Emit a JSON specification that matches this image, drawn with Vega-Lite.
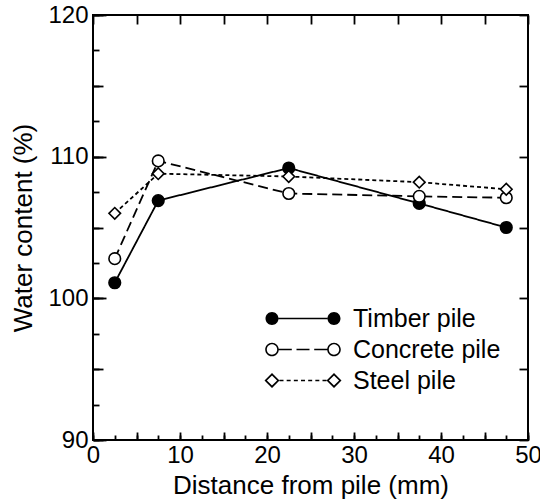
{
  "$schema": "https://vega.github.io/schema/vega-lite/v6.json",
  "width": 435,
  "height": 425,
  "autosize": {"type": "none"},
  "padding": {"left": 93, "top": 15, "right": 12, "bottom": 63},
  "background": "white",
  "config": {
    "view": {"stroke": "black", "strokeWidth": 2},
    "font": "Liberation Sans",
    "axis": {
      "grid": false,
      "domain": false,
      "labelColor": "black",
      "labelFont": "Liberation Sans",
      "labelFontSize": 24,
      "titleFont": "Liberation Sans",
      "titleFontSize": 26,
      "titleFontWeight": "normal",
      "titleColor": "black"
    }
  },
  "data": {
    "values": [
      {"d": 2.5, "w": 101.1, "pile": "Timber pile"},
      {"d": 7.5, "w": 106.9, "pile": "Timber pile"},
      {"d": 22.5, "w": 109.2, "pile": "Timber pile"},
      {"d": 37.5, "w": 106.7, "pile": "Timber pile"},
      {"d": 47.5, "w": 105.0, "pile": "Timber pile"},
      {"d": 2.5, "w": 102.8, "pile": "Concrete pile"},
      {"d": 7.5, "w": 109.7, "pile": "Concrete pile"},
      {"d": 22.5, "w": 107.4, "pile": "Concrete pile"},
      {"d": 37.5, "w": 107.2, "pile": "Concrete pile"},
      {"d": 47.5, "w": 107.1, "pile": "Concrete pile"},
      {"d": 2.5, "w": 106.0, "pile": "Steel pile"},
      {"d": 7.5, "w": 108.8, "pile": "Steel pile"},
      {"d": 22.5, "w": 108.6, "pile": "Steel pile"},
      {"d": 37.5, "w": 108.2, "pile": "Steel pile"},
      {"d": 47.5, "w": 107.7, "pile": "Steel pile"}
    ]
  },
  "layer": [
    {
      "mark": {"type": "line", "color": "black", "strokeWidth": 1.8},
      "encoding": {
        "x": {
          "field": "d", "type": "quantitative",
          "scale": {"domain": [0, 50], "nice": false, "zero": false},
          "axis": {
            "orient": "bottom",
            "title": "Distance from pile (mm)",
            "values": [0, 10, 20, 30, 40, 50],
            "ticks": false,
            "labelPadding": 3,
            "labelFlush": false,
            "labelOverlap": false,
            "titleY": 53,
            "titleBaseline": "alphabetic"
          }
        },
        "y": {
          "field": "w", "type": "quantitative",
          "scale": {"domain": [90, 120], "nice": false, "zero": false},
          "axis": {
            "orient": "left",
            "title": "Water content (%)",
            "values": [90, 100, 110, 120],
            "ticks": false,
            "labelPadding": 5,
            "labelFlush": false,
            "labelOverlap": false,
            "titleX": -70,
            "titleBaseline": "middle"
          }
        },
        "detail": {"field": "pile"},
        "strokeDash": {
          "field": "pile", "type": "nominal",
          "scale": {"domain": ["Timber pile", "Concrete pile", "Steel pile"], "range": [[1, 0], [10, 5], [4, 3]]},
          "legend": null
        }
      }
    },
    {
      "mark": {"type": "point", "filled": true, "opacity": 1, "stroke": "black", "strokeWidth": 1.6},
      "encoding": {
        "x": {
          "field": "d", "type": "quantitative",
          "axis": {
            "orient": "top", "title": null, "labels": false,
            "values": [0, 5, 10, 15, 20, 25, 30, 35, 40, 45, 50],
            "ticks": true, "tickSize": 9, "offset": -9, "tickColor": "black", "tickWidth": 1.8
          }
        },
        "y": {
          "field": "w", "type": "quantitative",
          "axis": {
            "orient": "right", "title": null, "labels": false,
            "values": [90, 95, 100, 105, 110, 115, 120],
            "ticks": true, "tickSize": 9, "offset": -9, "tickColor": "black", "tickWidth": 1.8
          }
        },
        "shape": {
          "field": "pile", "type": "nominal",
          "scale": {"domain": ["Timber pile", "Concrete pile", "Steel pile"], "range": ["circle", "circle", "diamond"]},
          "legend": null
        },
        "fill": {
          "field": "pile", "type": "nominal",
          "scale": {"domain": ["Timber pile", "Concrete pile", "Steel pile"], "range": ["black", "white", "white"]},
          "legend": null
        },
        "size": {
          "field": "pile", "type": "nominal",
          "scale": {"domain": ["Timber pile", "Concrete pile", "Steel pile"], "range": [135, 135, 210]},
          "legend": null
        }
      }
    },
    {
      "transform": [{"filter": "false"}],
      "mark": {"type": "point", "filled": true, "opacity": 1, "color": "black"},
      "encoding": {
        "x": {
          "field": "d", "type": "quantitative",
          "axis": {
            "orient": "bottom", "title": null, "labels": false,
            "values": [0, 5, 10, 15, 20, 25, 30, 35, 40, 45, 50],
            "ticks": true, "tickSize": 8, "offset": -8, "tickColor": "black", "tickWidth": 1.8
          }
        },
        "y": {
          "field": "w", "type": "quantitative",
          "axis": {
            "orient": "left", "title": null, "labels": false,
            "values": [90, 100, 110, 120],
            "ticks": true, "tickSize": 13, "offset": -13, "tickColor": "black", "tickWidth": 1.8
          }
        },
        "shape": {
          "field": "pile", "type": "nominal",
          "scale": {
            "domain": ["Timber pile", "Concrete pile", "Steel pile"],
            "range": [
              "M-3.75,0A0.65,0.65,0,1,0,-2.45,0A0.65,0.65,0,1,0,-3.75,0ZM2.45,0A0.65,0.65,0,1,0,3.75,0A0.65,0.65,0,1,0,2.45,0ZM-2.46,-0.08L2.46,-0.08L2.46,0.08L-2.46,0.08Z",
              "M-3.78,0A0.68,0.68,0,1,0,-2.42,0A0.68,0.68,0,1,0,-3.78,0ZM-3.62,0A0.52,0.52,0,1,1,-2.58,0A0.52,0.52,0,1,1,-3.62,0ZM2.42,0A0.68,0.68,0,1,0,3.78,0A0.68,0.68,0,1,0,2.42,0ZM2.58,0A0.52,0.52,0,1,1,3.62,0A0.52,0.52,0,1,1,2.58,0ZM-2.42,-0.08L-1.12,-0.08L-1.12,0.08L-2.42,0.08ZM-0.65,-0.08L0.65,-0.08L0.65,0.08L-0.65,0.08ZM1.12,-0.08L2.42,-0.08L2.42,0.08L1.12,0.08Z",
              "M-3.85,0L-3.1,-0.75L-2.35,0L-3.1,0.75ZM-3.61,0L-3.1,0.51L-2.59,0L-3.1,-0.51ZM2.35,0L3.1,-0.75L3.85,0L3.1,0.75ZM2.59,0L3.1,0.51L3.61,0L3.1,-0.51ZM-2.35,-0.08L-1.95,-0.08L-1.95,0.08L-2.35,0.08ZM-1.6333,-0.08L-1.2333,-0.08L-1.2333,0.08L-1.6333,0.08ZM-0.9167,-0.08L-0.5167,-0.08L-0.5167,0.08L-0.9167,0.08ZM-0.2,-0.08L0.2,-0.08L0.2,0.08L-0.2,0.08ZM0.5167,-0.08L0.9167,-0.08L0.9167,0.08L0.5167,0.08ZM1.2333,-0.08L1.6333,-0.08L1.6333,0.08L1.2333,0.08ZM1.95,-0.08L2.35,-0.08L2.35,0.08L1.95,0.08Z"
            ]
          },
          "legend": {
            "orient": "none",
            "legendX": 197.5,
            "legendY": 291,
            "title": null,
            "padding": 0,
            "symbolSize": 400,
            "symbolFillColor": "black",
            "symbolStrokeWidth": 0,
            "labelFont": "Liberation Sans",
            "labelFontSize": 25,
            "labelColor": "black",
            "labelOffset": 37.5,
            "rowPadding": 5
          }
        }
      }
    },
    {
      "transform": [{"filter": "false"}],
      "mark": {"type": "point"},
      "encoding": {
        "x": {
          "field": "d", "type": "quantitative",
          "axis": {
            "orient": "bottom", "title": null, "labels": false,
            "values": [0, 2.5, 5, 7.5, 10, 12.5, 15, 17.5, 20, 22.5, 25, 27.5, 30, 32.5, 35, 37.5, 40, 42.5, 45, 47.5, 50],
            "ticks": true, "tickSize": 5, "offset": -5, "tickColor": "black", "tickWidth": 1.8
          }
        },
        "y": {
          "field": "w", "type": "quantitative",
          "axis": {
            "orient": "left", "title": null, "labels": false,
            "values": [90, 95, 100, 105, 110, 115, 120],
            "ticks": true, "tickSize": 10, "offset": -10, "tickColor": "black", "tickWidth": 1.8
          }
        }
      }
    },
    {
      "transform": [{"filter": "false"}],
      "mark": {"type": "point"},
      "encoding": {
        "y": {
          "field": "w", "type": "quantitative",
          "axis": {
            "orient": "left", "title": null, "labels": false,
            "values": [90, 92.5, 95, 97.5, 100, 102.5, 105, 107.5, 110, 112.5, 115, 117.5, 120],
            "ticks": true, "tickSize": 6, "offset": -6, "tickColor": "black", "tickWidth": 1.8
          }
        }
      }
    }
  ],
  "resolve": {
    "scale": {"shape": "independent", "fill": "independent"},
    "axis": {"x": "independent", "y": "independent"}
  }
}
